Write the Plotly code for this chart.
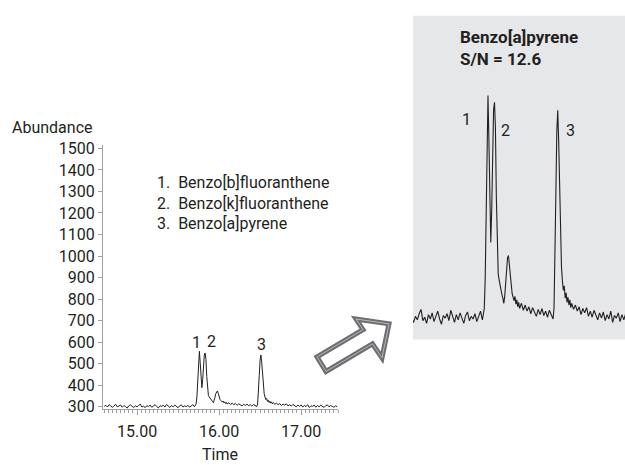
import plotly.graph_objects as go

# ---------------- data ----------------
# retention time (min)
times = [
    14.60, 14.62, 14.64, 14.66, 14.68, 14.70, 14.72, 14.74, 14.76, 14.78,
    14.80, 14.82, 14.84, 14.86, 14.88, 14.90, 14.92, 14.94, 14.96, 14.98,
    15.00, 15.02, 15.04, 15.06, 15.08, 15.10, 15.12, 15.14, 15.16, 15.18,
    15.20, 15.22, 15.24, 15.26, 15.28, 15.30, 15.32, 15.34, 15.36, 15.38,
    15.40, 15.42, 15.44, 15.46, 15.48, 15.50, 15.52, 15.54, 15.56, 15.58,
    15.60, 15.62, 15.64, 15.66, 15.68, 15.70,
    15.71, 15.72, 15.73, 15.74, 15.75, 15.76, 15.77, 15.78, 15.79, 15.80,
    15.81, 15.82, 15.83, 15.84, 15.85, 15.86, 15.87, 15.88, 15.89, 15.90,
    15.91, 15.92, 15.93, 15.94, 15.95, 15.96, 15.97, 15.98, 15.99, 16.00,
    16.01, 16.02, 16.03, 16.04, 16.05, 16.06, 16.07, 16.08, 16.09, 16.10,
    16.12, 16.14, 16.16, 16.18, 16.20, 16.22, 16.24, 16.26, 16.28, 16.30,
    16.32, 16.34, 16.36, 16.38, 16.40, 16.42, 16.44, 16.46,
    16.47, 16.48, 16.49, 16.50, 16.51, 16.52, 16.53, 16.54, 16.55, 16.56,
    16.57, 16.58, 16.59, 16.60, 16.61, 16.62, 16.63, 16.64, 16.65,
    16.66, 16.68, 16.70, 16.72, 16.74, 16.76, 16.78, 16.80, 16.82, 16.84,
    16.86, 16.88, 16.90, 16.92, 16.94, 16.96, 16.98, 17.00, 17.02, 17.04,
    17.06, 17.08, 17.10, 17.12, 17.14, 17.16, 17.18, 17.20, 17.22, 17.24,
    17.26, 17.28, 17.30, 17.32, 17.34, 17.36, 17.38, 17.40, 17.42, 17.44,
]

# abundance (counts)
abundance = [
    301, 306, 298, 309, 303, 296, 304, 310, 299, 302,
    307, 297, 305, 300, 293, 304, 308, 301, 296, 303,
    299, 306, 311, 298, 302, 295, 305, 300, 307, 297,
    303, 309, 300, 294, 304, 301, 306, 298, 310, 302,
    296, 305, 299, 307, 301, 295, 304, 308, 298, 303,
    300, 306, 297, 302, 309, 299,
    304, 312, 345, 430, 515, 557, 505, 425, 388, 425,
    500, 540, 549, 520, 440, 375, 352, 345, 338, 334,
    328, 324, 318, 326, 342, 360, 370, 373, 362, 346,
    334, 329, 325, 321, 326, 317, 322, 314, 319, 312,
    318, 310, 316, 309, 314, 306, 313, 308, 303, 311,
    305, 312, 304, 309, 302, 310, 305, 300,
    312, 360, 445, 515, 540, 505, 440, 388, 360, 344,
    333, 338, 324, 330, 319, 325, 316, 322, 313,
    318, 311, 316, 309, 314, 305, 312, 307, 313, 303,
    309, 302, 310, 304, 299, 307, 301, 308, 298, 305,
    300, 309, 296, 304, 301, 307, 297, 305, 299, 306,
    302, 296, 304, 308, 299, 305, 301, 297, 303, 300,
]

x_tick_values = [15, 16, 17]
x_tick_labels = ["15.00", "16.00", "17.00"]
y_tick_values = [300, 400, 500, 600, 700, 800, 900, 1000, 1100, 1200, 1300, 1400, 1500]
compounds = ["Benzo[b]fluoranthene", "Benzo[k]fluoranthene", "Benzo[a]pyrene"]
inset_title = ["Benzo[a]pyrene", "S/N = 12.6"]

# ---------------- layout helpers ----------------
W, H = 625, 465
FONT = "Roboto, 'Liberation Sans', Arial, sans-serif"
TXT = "#231f20"
AX = "#9d9fa2"


def px(x):
    return x / W


def py(y):
    return 1 - y / H


fig = go.Figure()
fig.add_trace(go.Scatter(x=times, y=abundance, mode="lines",
                         line=dict(color=TXT, width=1), xaxis="x", yaxis="y",
                         hoverinfo="skip", showlegend=False))
fig.add_trace(go.Scatter(x=times, y=abundance, mode="lines",
                         line=dict(color=TXT, width=1.1), xaxis="x2", yaxis="y2",
                         hoverinfo="skip", showlegend=False))

ann = []


def text(x, y, s, size=16, anchor="center", bold=False, yanchor="middle"):
    ann.append(dict(x=px(x), y=py(y), xref="paper", yref="paper", text=(f"<b>{s}</b>" if bold else s),
                    showarrow=False, xanchor=anchor, yanchor=yanchor,
                    font=dict(family=FONT, size=size, color=TXT)))


text(10, 125, "Abundance", anchor="left")
text(220, 461, "Time")
for i, (name, yy) in enumerate(zip(compounds, [182, 203, 224])):
    text(155, yy, f"{i + 1}.\u00a0 {name}", anchor="left")
for lab, (xx, yy) in zip(["1", "2", "3"], [(196.5, 346), (211.5, 345), (261, 348)]):
    text(xx, yy, lab)
text(458, 32, inset_title[0], size=17, anchor="left", bold=True)
text(458, 55, inset_title[1], size=17, anchor="left", bold=True)
for lab, (xx, yy) in zip(["1", "2", "3"], [(466.5, 117), (505.5, 128), (570.5, 128)]):
    text(xx, yy, lab)

# hollow arrow outline
pts = [(317, 361), (363, 333), (356, 322), (389, 327), (382, 362), (372.5, 347.5), (326, 376)]
path = "M " + " L ".join(f"{px(a):.5f},{py(b):.5f}" for a, b in pts) + " Z"

shapes = [
    dict(type="rect", xref="paper", yref="paper", x0=px(413), x1=1, y0=py(343), y1=py(10),
         fillcolor="#e6e7e8", line=dict(width=0), layer="below"),
    dict(type="path", xref="paper", yref="paper", path=path, line=dict(color="#6d6e71", width=5),
         fillcolor="rgba(0,0,0,0)"),
    dict(type="path", xref="paper", yref="paper", path=path, line=dict(color="#b5b6b8", width=1),
         fillcolor="rgba(0,0,0,0)"),
]

fig.update_layout(
    width=W, height=H, margin=dict(l=0, r=0, t=0, b=0),
    paper_bgcolor="white", plot_bgcolor="rgba(0,0,0,0)",
    font=dict(family=FONT, size=16, color=TXT),
    xaxis=dict(domain=[px(103), px(338)], range=[14.585, 17.45], anchor="y",
               tickmode="array", tickvals=x_tick_values, ticktext=x_tick_labels,
               ticks="outside", ticklen=5, tickcolor=AX, tickwidth=1, ticklabelstandoff=2,
               showline=True, linecolor=AX, linewidth=1, showgrid=False, zeroline=False,
               tickfont=dict(family=FONT, size=16, color=TXT),
               minor=dict(tickmode="linear", tick0=15, dtick=0.05, ticks="outside", ticklen=3,
                          tickcolor=AX, tickwidth=1, showgrid=False)),
    yaxis=dict(domain=[py(415), py(143)], range=[287, 1516], anchor="x",
               tickmode="array", tickvals=y_tick_values,
               ticks="outside", ticklen=4, tickcolor=AX, tickwidth=1,
               showline=True, linecolor=AX, linewidth=1, showgrid=False, zeroline=False,
               tickfont=dict(family=FONT, size=16, color=TXT)),
    xaxis2=dict(domain=[px(413), 1], range=[14.954, 17.233], anchor="y2", visible=False),
    yaxis2=dict(domain=[py(343), py(10)], range=[276.5, 648.6], anchor="x2", visible=False),
    annotations=ann, shapes=shapes, showlegend=False,
)

fig.write_html("out.html", config={"displayModeBar": False},
               post_script="document.body.style.margin='0';document.body.style.overflow='hidden';")
